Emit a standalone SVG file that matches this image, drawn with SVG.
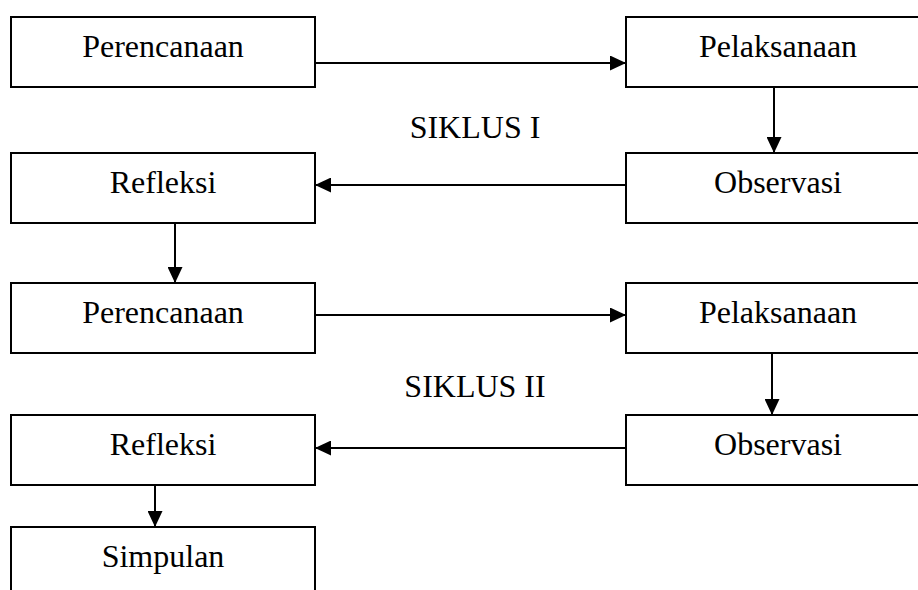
<svg xmlns="http://www.w3.org/2000/svg" width="918" height="590" viewBox="0 0 918 590">
<defs>
<style>
.box{fill:#fff;stroke:#000;stroke-width:2}
.lbl{font-family:"Liberation Serif","Times New Roman",serif;font-size:32px;fill:#000;text-anchor:middle}
.conn{stroke:#000;stroke-width:2;fill:none}
</style>
<marker id="ah" viewBox="0 0 16 15" refX="16" refY="7.5" markerWidth="16" markerHeight="15" markerUnits="userSpaceOnUse" orient="auto">
<path d="M0,0 L16,7.5 L0,15 Z" fill="#000"/>
</marker>
</defs>
<rect width="918" height="590" fill="#fff"/>
<g id="perencanaan1"><rect class="box" x="11" y="17" width="304" height="70"/><text class="lbl" x="163" y="57">Perencanaan</text></g>
<g id="pelaksanaan1"><rect class="box" x="626" y="17" width="304" height="70"/><text class="lbl" x="778" y="57">Pelaksanaan</text></g>
<g id="observasi1"><rect class="box" x="626" y="153" width="304" height="70"/><text class="lbl" x="778" y="193">Observasi</text></g>
<g id="refleksi1"><rect class="box" x="11" y="153" width="304" height="70"/><text class="lbl" x="163" y="193">Refleksi</text></g>
<g id="perencanaan2"><rect class="box" x="11" y="283" width="304" height="70"/><text class="lbl" x="163" y="323">Perencanaan</text></g>
<g id="pelaksanaan2"><rect class="box" x="626" y="283" width="304" height="70"/><text class="lbl" x="778" y="323">Pelaksanaan</text></g>
<g id="observasi2"><rect class="box" x="626" y="415" width="304" height="70"/><text class="lbl" x="778" y="455">Observasi</text></g>
<g id="refleksi2"><rect class="box" x="11" y="415" width="304" height="70"/><text class="lbl" x="163" y="455">Refleksi</text></g>
<g id="simpulan"><rect class="box" x="11" y="527" width="304" height="80"/><text class="lbl" x="163" y="567">Simpulan</text></g>
<g id="labels">
<text class="lbl" x="475" y="138">SIKLUS I</text>
<text class="lbl" x="475" y="397">SIKLUS II</text>
</g>
<g id="connectors">
<line class="conn" x1="315" y1="63" x2="626" y2="63" marker-end="url(#ah)"/>
<line class="conn" x1="774" y1="87" x2="774" y2="153" marker-end="url(#ah)"/>
<line class="conn" x1="626" y1="185" x2="315" y2="185" marker-end="url(#ah)"/>
<line class="conn" x1="175" y1="223" x2="175" y2="283" marker-end="url(#ah)"/>
<line class="conn" x1="315" y1="315" x2="626" y2="315" marker-end="url(#ah)"/>
<line class="conn" x1="772" y1="353" x2="772" y2="415" marker-end="url(#ah)"/>
<line class="conn" x1="626" y1="448" x2="315" y2="448" marker-end="url(#ah)"/>
<line class="conn" x1="155" y1="485" x2="155" y2="527" marker-end="url(#ah)"/>
</g>
</svg>
